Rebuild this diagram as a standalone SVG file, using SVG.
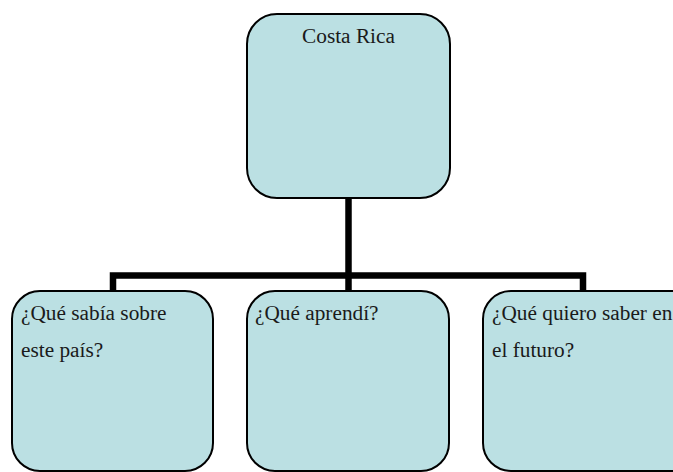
<svg xmlns="http://www.w3.org/2000/svg" width="673" height="472" viewBox="0 0 673 472">
<style>
.box{fill:#BBE0E3;stroke:#000;stroke-width:2}
.t{font-family:"Liberation Serif","Times New Roman",serif;font-size:21.3px;fill:#1a1a1a}
.c{fill:none;stroke:#000;stroke-width:6.5;stroke-linejoin:miter}
</style>
<rect width="673" height="472" fill="#fff"/>
<g id="connectors">
<path class="c" d="M348.5 198 V275.5"/>
<path class="c" d="M113 290 V275.5 H583 V290"/>
<path class="c" d="M348.5 275.5 V290"/>
</g>
<g id="n0">
<rect class="box" x="247" y="14" width="203" height="184" rx="30" ry="30"/>
<text class="t" x="348.5" y="43" text-anchor="middle">Costa Rica</text>
</g>
<g id="n1">
<rect class="box" x="12" y="291" width="201" height="180" rx="28" ry="28"/>
<text class="t" x="21" y="320">¿Qué sabía sobre</text>
<text class="t" x="21" y="357">este país?</text>
</g>
<g id="n2">
<rect class="box" x="247" y="291" width="202" height="180" rx="28" ry="28"/>
<text class="t" x="255" y="320">¿Qué aprendí?</text>
</g>
<g id="n3">
<rect class="box" x="483" y="291" width="240" height="180" rx="28" ry="28"/>
<text class="t" x="492" y="320">¿Qué quiero saber en</text>
<text class="t" x="492" y="357">el futuro?</text>
</g>
</svg>
